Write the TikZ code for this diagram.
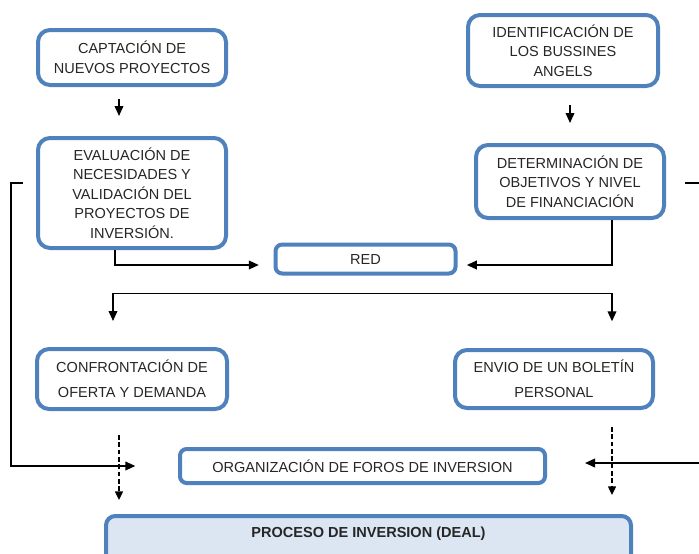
\documentclass[tikz,border=0pt]{standalone}
\usepackage{fontspec}
\setmainfont{Liberation Sans}
\usepackage{xcolor}
\usetikzlibrary{arrows.meta,positioning,calc}
\definecolor{boxblue}{RGB}{79,129,189}
\definecolor{dealfill}{RGB}{220,230,242}

\begin{document}
\begin{tikzpicture}[
    x=0.75pt, y=-0.75pt,
    >={Triangle[length=7.5pt,width=6.5pt]},
    font=\fontsize{10.9}{14.6}\selectfont,
    bigbox/.style={rounded corners=9pt, draw=boxblue, line width=3pt, fill=white,
                   align=center, inner sep=2pt, text=black!85},
    airbox/.style={bigbox, font=\fontsize{10.9}{18.4}\selectfont},
    flatbox/.style={rounded corners=5pt, draw=boxblue, line width=3pt, fill=white,
                    align=center, inner sep=2pt, text=black!85},
    dealbox/.style={rounded corners=7pt, draw=boxblue, line width=3pt, fill=dealfill,
                    inner xsep=2pt, inner ysep=7.75pt, text=black!85,
                    font=\fontsize{10.9}{14.6}\selectfont\bfseries},
    flow/.style={->, line width=1.2pt, black},
    dflow/.style={->, >={Triangle[length=6.5pt,width=6pt]}, line width=1pt, black,
                  dash pattern=on 3.5pt off 2pt},
]
\useasboundingbox (0,0) rectangle (699,553);

% --- projects side (left) ---
\node[bigbox, minimum width=141pt, minimum height=41.25pt] (capt) at (132,57.5)
  {CAPTACIÓN DE\\NUEVOS PROYECTOS};
\node[bigbox, minimum width=141pt, minimum height=82.5pt] (eval) at (132,193)
  {EVALUACIÓN DE\\NECESIDADES Y\\VALIDACIÓN DEL\\PROYECTOS DE\\INVERSIÓN.};

% --- investors side (right) ---
\node[bigbox, minimum width=142.5pt, minimum height=53.25pt] (ident) at (563,50.5)
  {IDENTIFICACIÓN DE\\LOS BUSSINES\\ANGELS};
\node[bigbox, minimum width=141pt, minimum height=54.75pt] (deter) at (570,181.5)
  {DETERMINACIÓN DE\\OBJETIVOS Y NIVEL\\DE FINANCIACIÓN};

% --- meeting point ---
\node[flatbox, minimum width=135pt, minimum height=21.75pt] (red) at (365.5,259) {RED};

\node[airbox, minimum width=142.5pt, minimum height=45pt] (conf) at (132,379)
  {CONFRONTACIÓN DE\\OFERTA Y DEMANDA};
\node[airbox, minimum width=148.5pt, minimum height=43.5pt] (envio) at (554,379)
  {ENVIO DE UN BOLETÍN\\PERSONAL};

\node[flatbox, minimum width=273.75pt, minimum height=25.5pt] (organ) at (362.5,466)
  {ORGANIZACIÓN DE FOROS DE INVERSION};

% --- deal (runs past the bottom edge) ---
\node[dealbox, anchor=north, minimum width=393.75pt, text height=8pt, text depth=30pt]
  (proc) at (368.5,514) {PROCESO DE INVERSION (DEAL)};

% --- top arrows ---
\coordinate (ce) at ($(capt.south)+(-13,0)$);
\draw[flow, shorten <=9pt, shorten >=15pt] (ce) -- (ce |- eval.north);
\draw[flow, shorten <=12.75pt, shorten >=15pt] (deter.north |- ident.south) -- (deter.north);

% --- into RED ---
\draw[flow, shorten >=11pt] ($(eval.south)+(-17,0)$) |- ($(red.west)+(0,6)$);
\draw[flow, shorten >=7pt] ($(deter.south)+(42,0)$) |- ($(red.east)+(0,6)$);

% --- split below RED ---
\coordinate (split) at ($(red.south)+(0,18)$);
\draw[flow, shorten >=19.5pt] (split) -| ($(conf.north)+(-19,0)$);
\draw[flow, shorten >=20pt] (split) -| ($(envio.north)+(58,0)$);

% --- side loops into the forums ---
\draw[flow, shorten <=9.75pt, shorten >=32pt]
  ($(eval.west)+(0,-10)$) -- ++(-25,0) |- (organ.west);
\draw[flow, shorten <=14.25pt, shorten >=28.5pt]
  ($(deter.east)+(0,1.5)$) -- ++(45,0) |- ($(organ.east)+(0,-3)$);

% --- dashed arrows to the deal ---
\coordinate (dl) at ($(conf.south)+(-13,0)$);
\draw[dflow, shorten <=18pt, shorten >=10.5pt] (dl) -- (dl |- proc.north);
\coordinate (dr) at ($(envio.south)+(58,0)$);
\draw[dflow, shorten <=12.75pt, shorten >=14.25pt] (dr) -- (dr |- proc.north);
\end{tikzpicture}
\end{document}
